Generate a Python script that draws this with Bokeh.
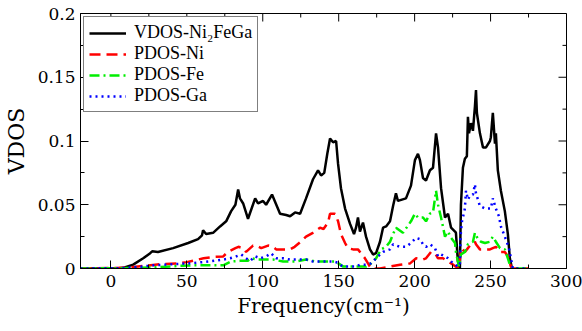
import math
from bokeh.plotting import figure
from bokeh.models import Range1d, FixedTicker, CustomJSTickFormatter
from bokeh.embed import file_html
from bokeh.resources import INLINE

# ---------------- data ----------------
vdos_freq = [-20, 0, 5, 8, 14.7, 21.3, 25.9, 27.2, 31, 41, 50.9, 57.4, 60, 60.7, 62.7, 67.3,
             71.9, 75.9, 79.2, 82, 83.8, 85, 87.1, 90.3, 95, 96.9, 100.2, 102.2, 106.1, 111.4,
             115.4, 118, 121.3, 124.6, 128.5, 133.1, 136.4, 138.4, 140.5, 142.5, 144.3, 146.3,
             148.3, 149.6, 151.5, 154.2, 157.5, 160.1, 161.4, 162.7, 164, 166, 168, 170.6, 172.6,
             174.6, 177.2, 179.2, 181.2, 183.8, 185.8, 187.7, 189, 194.3, 197.6, 200.2, 202.2,
             203.5, 205.5, 207.5, 210.1, 212.1, 214.1, 215.4, 217.4, 220, 222, 224, 226.6, 227.2,
             228.5, 229.8, 230.5, 231.8, 233.1, 234.4, 235.1, 235.8, 237.1, 238.4, 239.7, 240.4,
             241, 243, 245, 247, 249.6, 250.2, 251.5, 252.9, 253.5, 254.8, 256.8, 259.4, 261.4,
             262.7, 264.1]
vdos = [0, 0, 0.0002, 0.0005, 0.003, 0.008, 0.012, 0.0135, 0.013, 0.016, 0.020, 0.023, 0.026,
        0.030, 0.027, 0.028, 0.033, 0.037, 0.045, 0.050, 0.062, 0.055, 0.051, 0.039, 0.055,
        0.051, 0.053, 0.050, 0.058, 0.043, 0.042, 0.041, 0.044, 0.043, 0.055, 0.070, 0.077,
        0.073, 0.075, 0.090, 0.102, 0.099, 0.100, 0.082, 0.063, 0.047, 0.035, 0.027, 0.032,
        0.040, 0.029, 0.036, 0.025, 0.015, 0.011, 0.012, 0.021, 0.032, 0.033, 0.037, 0.049,
        0.059, 0.053, 0.055, 0.065, 0.085, 0.090, 0.085, 0.071, 0.069, 0.077, 0.079, 0.106,
        0.095, 0.063, 0.040, 0.043, 0.032, 0.029, 0.028, 0.0055, 0.0, 0.050, 0.079, 0.086,
        0.088, 0.119, 0.106, 0.114, 0.108, 0.127, 0.140, 0.122, 0.106, 0.095, 0.095, 0.100,
        0.103, 0.122, 0.098, 0.106, 0.077, 0.061, 0.045, 0.027, 0.008, 0.0]

ni_freq = [-20, 10, 21, 34, 44, 50, 61, 67, 74, 77, 82, 84, 87, 89, 93.6, 95.6, 99, 103.5,
           106.8, 108.8, 112, 118, 121, 125, 128.5, 133, 137.7, 140, 143, 144.3, 147.6, 149.6,
           151.5, 154.2, 156, 159.4, 162.7, 164.7, 167.3, 169.3, 171.3, 177.2, 183.8, 190.4,
           197, 201, 205.5, 207.5, 210.8, 213.4, 215.4, 218.7, 222, 225.3, 227.2, 229.2, 230.5,
           233.1, 235.1, 237.1, 239.7, 240.4, 243, 246.3, 249.6, 251.5, 253.5, 256.2, 259.4,
           261.4, 263.4, 264.5, 275]
ni = [0, 0.0005, 0.002, 0.0035, 0.004, 0.005, 0.008, 0.009, 0.0095, 0.013, 0.016, 0.017,
      0.016, 0.013, 0.018, 0.018, 0.016, 0.018, 0.017, 0.015, 0.015, 0.015, 0.017, 0.021,
      0.025, 0.028, 0.032, 0.031, 0.036, 0.043, 0.043, 0.037, 0.027, 0.020, 0.016, 0.015,
      0.015, 0.012, 0.008, 0.004, 0.0, 0.0, 0.0015, 0.003, 0.004, 0.008, 0.007, 0.008, 0.013,
      0.012, 0.008, 0.008, 0.0055, 0.003, 0.0015, 0.0, 0.016, 0.013, 0.016, 0.019, 0.021,
      0.019, 0.015, 0.015, 0.015, 0.016, 0.017, 0.013, 0.013, 0.0095, 0.0015, 0.0, 0.0]

fe_freq = [-20, 10, 30, 44, 55, 74, 79, 85, 90, 92.6, 97, 100, 106.8, 113.4, 122, 128.5, 135,
           145, 148, 153, 166, 168, 171.3, 174.6, 177.9, 181.2, 183.8, 185.8, 187.7, 192.3,
           197.6, 200.2, 202.2, 205.5, 207.5, 210.1, 212.1, 214.1, 215.4, 217.4, 220, 222, 224,
           226.6, 227.2, 229.2, 230.5, 233.1, 235.1, 238.4, 239.7, 241.7, 243.7, 246.3, 249.6,
           251.5, 253.5, 256.2, 259.4, 261.4, 263.4, 275]
fe = [0, 0.0003, 0.001, 0.002, 0.0025, 0.0025, 0.0055, 0.006, 0.006, 0.008, 0.007, 0.007,
      0.007, 0.0055, 0.0055, 0.007, 0.0055, 0.0055, 0.0055, 0.0015, 0.0015, 0.0015, 0.004,
      0.008, 0.015, 0.017, 0.021, 0.027, 0.032, 0.028, 0.037, 0.043, 0.040, 0.040, 0.037,
      0.043, 0.044, 0.061, 0.050, 0.040, 0.025, 0.029, 0.024, 0.020, 0.013, 0.0015, 0.011,
      0.013, 0.019, 0.021, 0.028, 0.023, 0.021, 0.020, 0.021, 0.025, 0.021, 0.016, 0.015,
      0.008, 0.0, 0.0]

ga_freq = [-20, 8, 21.3, 27.9, 50.9, 60.7, 73.9, 78.5, 82.5, 85.8, 89, 91.7, 95, 98.3, 102.2,
           105.5, 108.8, 113.4, 118, 128.5, 133, 146.3, 148.3, 152.8, 161.4, 164, 168, 171.3,
           175.9, 179.2, 183.8, 185.8, 190.4, 194.3, 197.6, 200.9, 203.5, 205.5, 207.5, 210.1,
           213.4, 215.4, 217.4, 220, 222, 224, 226.6, 228.5, 229.8, 230.2, 230.5, 231.2, 233.1,
           233.8, 235.1, 236.4, 238.4, 239.7, 240.4, 243, 246.3, 248.3, 250.2, 251.5, 253.5,
           255.5, 256.8, 259.4, 262.1, 263.4, 264.7, 275]
ga = [0, 0.0003, 0.0016, 0.0025, 0.004, 0.005, 0.007, 0.008, 0.0095, 0.011, 0.008, 0.006,
      0.0095, 0.008, 0.0095, 0.012, 0.008, 0.008, 0.007, 0.007, 0.0055, 0.0055, 0.005, 0.0015,
      0.0015, 0.003, 0.003, 0.004, 0.0095, 0.013, 0.015, 0.019, 0.017, 0.017, 0.020, 0.024,
      0.023, 0.019, 0.017, 0.019, 0.016, 0.0095, 0.011, 0.0095, 0.008, 0.0055, 0.003, 0.0015,
      0.003, 0.023, 0.029, 0.037, 0.047, 0.061, 0.054, 0.057, 0.058, 0.066, 0.059, 0.049,
      0.047, 0.047, 0.047, 0.055, 0.047, 0.041, 0.033, 0.025, 0.016, 0.008, 0.0, 0.0]

x_major = [0, 50, 100, 150, 200, 250, 300]
x_minor = [25, 75, 125, 175, 225, 275]
y_major = [0, 0.05, 0.1, 0.15, 0.2]
y_minor = [0.025, 0.075, 0.125, 0.175]
x_lo, x_hi = -20, 300
y_lo, y_hi = 0, 0.2

labels = ["VDOS-Ni\u2082FeGa", "PDOS-Ni", "PDOS-Fe", "PDOS-Ga"]

# ---------------- figure ----------------
AXIS_FONT = "DejaVu Serif"

p = figure(width=582, height=331, output_backend="svg", toolbar_location=None,
           x_range=Range1d(x_lo, x_hi), y_range=Range1d(y_lo, y_hi),
           min_border_left=77, min_border_right=16, min_border_top=13, min_border_bottom=63)
p.grid.visible = False
p.outline_line_color = "black"
p.outline_line_width = 1
p.background_fill_color = "white"

xt = FixedTicker(ticks=x_major, minor_ticks=x_minor)
yt = FixedTicker(ticks=y_major, minor_ticks=y_minor)
yfmt = CustomJSTickFormatter(code="return tick.toFixed(2).replace(/0+$/,'').replace(/\\.$/,'');")


def style(ax):
    ax.axis_line_color = "black"
    ax.axis_line_width = 1
    ax.major_tick_in = 8
    ax.major_tick_out = 0
    ax.minor_tick_in = 4
    ax.minor_tick_out = 0
    ax.major_tick_line_color = "black"
    ax.minor_tick_line_color = "black"
    ax.major_label_text_font = AXIS_FONT
    ax.major_label_text_font_size = "17px"
    ax.major_label_text_color = "black"
    ax.axis_label_text_font = AXIS_FONT
    ax.axis_label_text_font_style = "normal"
    ax.axis_label_text_color = "black"


xa = p.xaxis[0]
xa.ticker = xt
style(xa)
xa.major_label_standoff = 6
xa.axis_label = "Frequency(cm\u207b\u00b9)"
xa.axis_label_text_font_size = "20px"
xa.axis_label_standoff = 4

ya = p.yaxis[0]
ya.ticker = yt
ya.formatter = yfmt
style(ya)
ya.major_label_standoff = 5
ya.axis_label = "VDOS"
ya.axis_label_text_font_size = "22px"
ya.axis_label_standoff = 6

# mirrored ticks on top and right edges (inward, screen-pixel lengths)
p.ray(x=x_major, y=[y_hi] * len(x_major), length=8, length_units="screen",
      angle=-math.pi / 2, line_color="black", line_width=1)
p.ray(x=x_minor, y=[y_hi] * len(x_minor), length=4, length_units="screen",
      angle=-math.pi / 2, line_color="black", line_width=1)
p.ray(x=[x_hi] * len(y_major), y=y_major, length=8, length_units="screen",
      angle=math.pi, line_color="black", line_width=1)
p.ray(x=[x_hi] * len(y_minor), y=y_minor, length=4, length_units="screen",
      angle=math.pi, line_color="black", line_width=1)

# ---------------- series ----------------
p.line(vdos_freq, vdos, line_color="black", line_width=2.5, legend_label=labels[0])
p.line(ni_freq, ni, line_color="#ff0000", line_width=2.5, line_dash="11 6", legend_label=labels[1])
p.line(fe_freq, fe, line_color="#00ee00", line_width=2.5, line_dash="10 4 2 4", legend_label=labels[2])
p.line(ga_freq, ga, line_color="#0000ff", line_width=2.5, line_dash="2 4", legend_label=labels[3])

lg = p.legend[0]
lg.location = "top_left"
lg.margin = 3
lg.padding = 5
lg.spacing = -3
lg.border_line_color = "black"
lg.border_line_width = 1
lg.background_fill_color = "white"
lg.background_fill_alpha = 1
lg.label_text_font = "serif"
lg.label_text_font_size = "18px"
lg.label_text_line_height = 0.95
lg.label_text_color = "black"
lg.glyph_width = 37
lg.glyph_height = 18
lg.label_height = 18
lg.label_standoff = 8

open("out.html", "w").write(file_html(p, INLINE))
